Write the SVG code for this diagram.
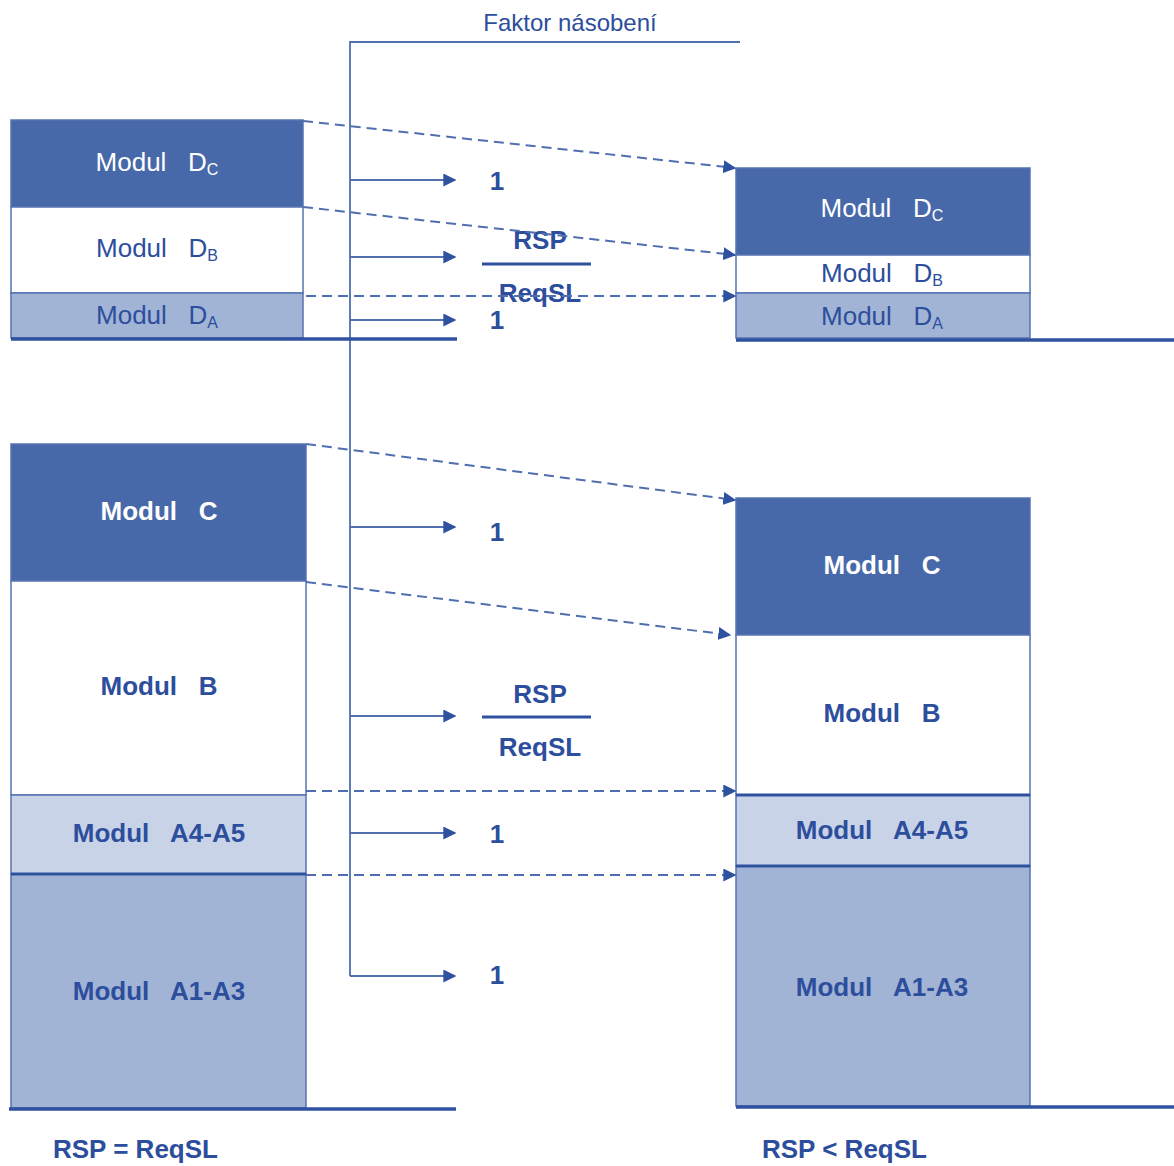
<svg xmlns="http://www.w3.org/2000/svg" width="1174" height="1166" viewBox="0 0 1174 1166">
<defs>
<style>
.dark{fill:#4869a9;stroke:#5673b0;stroke-width:1.5}
.white{fill:#ffffff;stroke:#5673b0;stroke-width:1.5}
.mid{fill:#a2b4d6;stroke:#5673b0;stroke-width:1.5}
.light{fill:#c8d3e8;stroke:#5673b0;stroke-width:1.5}
.sep{stroke:#2f52a0;stroke-width:3}
.base{stroke:#2f52a0;stroke-width:3.5;fill:none}
.thin{stroke:#4f6fb0;stroke-width:1.8;fill:none}
.dash{stroke:#4f6fb0;stroke-width:2;fill:none;stroke-dasharray:10 6}
.t{font-family:"Liberation Sans",Arial,sans-serif;font-size:26px;text-anchor:middle;white-space:pre}
.b{font-weight:bold}
.w{fill:#ffffff}
.bl{fill:#2c4e9c}
.sub{font-size:16px}
</style>
<marker id="ah" viewBox="0 0 10 10" refX="9" refY="5" markerWidth="13" markerHeight="13" markerUnits="userSpaceOnUse" orient="auto">
<path d="M0,0 L10,5 L0,10 z" fill="#2f52a0"/>
</marker>
</defs>

<g id="axis">
<polyline class="thin" points="740,42 350,42 350,976"/>
<text class="t bl" x="570" y="31" style="font-size:24px">Faktor násobení</text>
</g>

<g id="top-left-stack">
<g id="tl-dc"><rect class="dark" x="11" y="120" width="292" height="87"/><text class="t w" x="157" y="171" xml:space="preserve">Modul   D<tspan class="sub" dy="4">C</tspan></text></g>
<g id="tl-db"><rect class="white" x="11" y="207" width="292" height="86"/><text class="t bl" x="157" y="257" xml:space="preserve">Modul   D<tspan class="sub" dy="4">B</tspan></text></g>
<g id="tl-da"><rect class="mid" x="11" y="293" width="292" height="45"/><text class="t bl" x="157" y="324" xml:space="preserve">Modul   D<tspan class="sub" dy="4">A</tspan></text></g>
<line class="base" x1="11" y1="339" x2="457" y2="339"/>
</g>

<g id="top-right-stack">
<g id="tr-dc"><rect class="dark" x="736" y="168" width="294" height="87"/><text class="t w" x="882" y="217" xml:space="preserve">Modul   D<tspan class="sub" dy="4">C</tspan></text></g>
<g id="tr-db"><rect class="white" x="736" y="255" width="294" height="38"/><text class="t bl" x="882" y="282" xml:space="preserve">Modul   D<tspan class="sub" dy="4">B</tspan></text></g>
<g id="tr-da"><rect class="mid" x="736" y="293" width="294" height="45"/><text class="t bl" x="882" y="325" xml:space="preserve">Modul   D<tspan class="sub" dy="4">A</tspan></text></g>
<line class="base" x1="736" y1="340" x2="1174" y2="340"/>
</g>

<g id="bottom-left-stack">
<g id="bl-c"><rect class="dark" x="11" y="444" width="295" height="137"/><text class="t b w" x="159" y="520" xml:space="preserve">Modul   C</text></g>
<g id="bl-b"><rect class="white" x="11" y="581" width="295" height="214"/><text class="t b bl" x="159" y="695" xml:space="preserve">Modul   B</text></g>
<g id="bl-a45"><rect class="light" x="11" y="795" width="295" height="79"/><text class="t b bl" x="159" y="842" xml:space="preserve">Modul   A4-A5</text></g>
<g id="bl-a13"><rect class="mid" x="11" y="874" width="295" height="234"/><text class="t b bl" x="159" y="1000" xml:space="preserve">Modul   A1-A3</text></g>
<line class="sep" x1="11" y1="874" x2="306" y2="874"/>
<line class="base" x1="9" y1="1109" x2="456" y2="1109"/>
<text class="t b bl" x="53" y="1158" style="text-anchor:start">RSP = ReqSL</text>
</g>

<g id="bottom-right-stack">
<g id="br-c"><rect class="dark" x="736" y="498" width="294" height="137"/><text class="t b w" x="882" y="574" xml:space="preserve">Modul   C</text></g>
<g id="br-b"><rect class="white" x="736" y="635" width="294" height="160"/><text class="t b bl" x="882" y="722" xml:space="preserve">Modul   B</text></g>
<g id="br-a45"><rect class="light" x="736" y="795" width="294" height="71"/><text class="t b bl" x="882" y="839" xml:space="preserve">Modul   A4-A5</text></g>
<g id="br-a13"><rect class="mid" x="736" y="866" width="294" height="240"/><text class="t b bl" x="882" y="996" xml:space="preserve">Modul   A1-A3</text></g>
<line class="sep" x1="736" y1="795" x2="1030" y2="795"/>
<line class="sep" x1="736" y1="866" x2="1030" y2="866"/>
<line class="base" x1="736" y1="1107" x2="1174" y2="1107"/>
<text class="t b bl" x="762" y="1158" style="text-anchor:start">RSP &lt; ReqSL</text>
</g>

<g id="factors">
<text class="t b bl" x="497" y="190">1</text>
<text class="t b bl" x="540" y="249">RSP</text>
<line x1="482" y1="264" x2="591" y2="264" stroke="#2f52a0" stroke-width="3"/>
<text class="t b bl" x="540" y="302">ReqSL</text>
<text class="t b bl" x="497" y="329">1</text>
<text class="t b bl" x="497" y="541">1</text>
<text class="t b bl" x="540" y="703">RSP</text>
<line x1="482" y1="717" x2="591" y2="717" stroke="#2f52a0" stroke-width="3"/>
<text class="t b bl" x="540" y="756">ReqSL</text>
<text class="t b bl" x="497" y="843">1</text>
<text class="t b bl" x="497" y="984">1</text>
</g>

<g id="connectors">
<line class="thin" x1="350" y1="180" x2="455" y2="180" marker-end="url(#ah)"/>
<line class="thin" x1="350" y1="257" x2="455" y2="257" marker-end="url(#ah)"/>
<line class="thin" x1="350" y1="320" x2="455" y2="320" marker-end="url(#ah)"/>
<line class="thin" x1="350" y1="527" x2="455" y2="527" marker-end="url(#ah)"/>
<line class="thin" x1="350" y1="716" x2="455" y2="716" marker-end="url(#ah)"/>
<line class="thin" x1="350" y1="833" x2="455" y2="833" marker-end="url(#ah)"/>
<line class="thin" x1="350" y1="976" x2="455" y2="976" marker-end="url(#ah)"/>
<line class="dash" x1="303" y1="121" x2="735" y2="168" marker-end="url(#ah)"/>
<line class="dash" x1="303" y1="207" x2="735" y2="255" marker-end="url(#ah)"/>
<line class="dash" x1="306" y1="296" x2="735" y2="296" marker-end="url(#ah)"/>
<line class="dash" x1="306" y1="444" x2="735" y2="500" marker-end="url(#ah)"/>
<line class="dash" x1="306" y1="582" x2="730" y2="635" marker-end="url(#ah)"/>
<line class="dash" x1="306" y1="791" x2="735" y2="791" marker-end="url(#ah)"/>
<line class="dash" x1="306" y1="875" x2="735" y2="875" marker-end="url(#ah)"/>
</g>
</svg>
